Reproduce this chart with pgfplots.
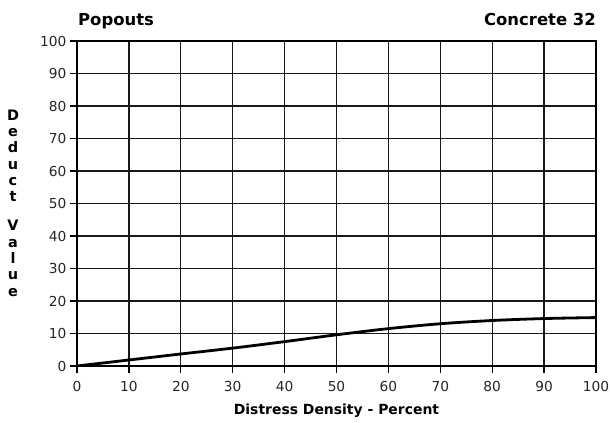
\documentclass[border=0pt]{standalone}
\usepackage{fontspec}
\setmainfont{DejaVu Sans}
\usepackage{pgfplots}
\pgfplotsset{compat=1.18}
\begin{document}
\begin{tikzpicture}
\useasboundingbox (-77bp,-57bp) rectangle (533bp,366bp);
\begin{axis}[
    at={(0,0)}, anchor=south west,
    width=519bp, height=325bp, scale only axis,
    xmin=0, xmax=100, ymin=0, ymax=100,
    xtick={0,10,...,100}, ytick={0,10,...,100},
    grid=major,
    major grid style={black!90, line width=1.3bp},
    axis line style={line width=1.7bp},
    tick style={black, line width=1.3bp},
    tick align=outside, major tick length=7bp,
    xtick pos=bottom, ytick pos=left,
    tick label style={font=\fontsize{13.8}{16}\selectfont, text=black!85},
    xticklabel style={yshift=-5bp},
    /pgf/number format/assume math mode=true,
]
\addplot[black, line width=2.8bp, smooth] coordinates {
    (0,0) (10,1.85) (20,3.7) (30,5.5) (40,7.5) (50,9.6)
    (60,11.5) (70,13.0) (80,14.0) (90,14.6) (100,14.9)
};
\end{axis}
\node[anchor=base west, inner sep=0, font=\bfseries\fontsize{16.5}{20}\selectfont] at (1bp,340bp) {Popouts};
\node[anchor=base east, inner sep=0, font=\bfseries\fontsize{16.5}{20}\selectfont] at (519bp,340bp) {Concrete 32};
\node[anchor=base, inner sep=0, font=\bfseries\fontsize{14}{17}\selectfont] at (259.5bp,-48bp) {Distress Density - Percent};
\node[inner sep=0, align=center, font=\bfseries\fontsize{14.5}{16.4}\selectfont] at (-64bp,163bp)
    {D\\e\\d\\u\\c\\t\\[12.6bp]V\\a\\l\\u\\e};
\end{tikzpicture}
\end{document}
